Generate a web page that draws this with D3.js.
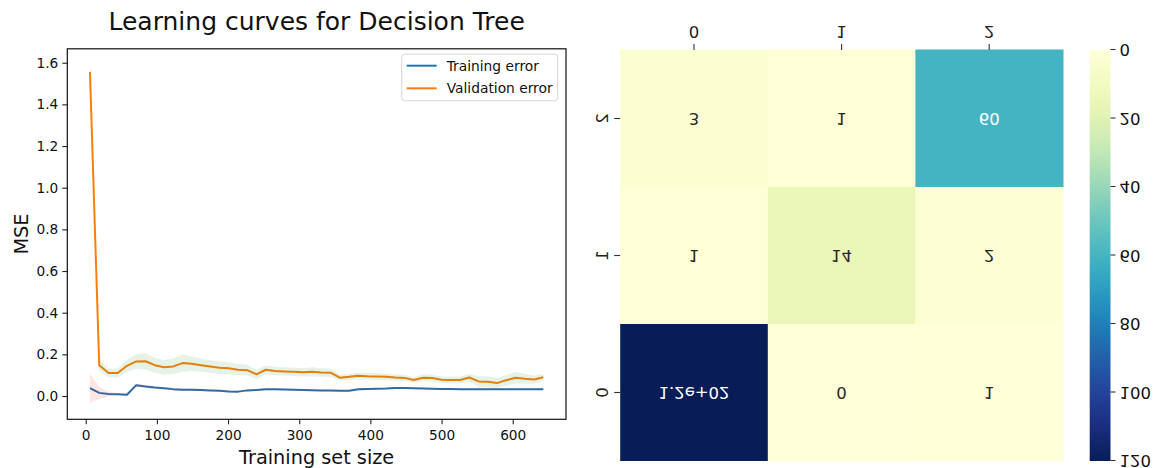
<!DOCTYPE html>
<html>
<head>
<meta charset="utf-8">
<script src="https://cdn.jsdelivr.net/npm/d3@7"></script>
<style>
  body { margin: 0; background: #fff; }
  svg { display: block; }
  text { font-family: "DejaVu Sans", sans-serif; fill: #111; }
</style>
</head>
<body>
<svg id="chart" width="1153" height="468"></svg>
<script>
// ---------- learning-curve data ----------
const trainSizes = [6, 19, 32, 45, 58, 71, 84, 97, 110, 123, 136, 149, 162, 175, 188, 201, 214, 227, 240, 253,
  266, 279, 292, 305, 318, 331, 344, 357, 370, 383, 396, 409, 422, 435, 448, 461, 474, 487, 500, 513,
  526, 539, 552, 565, 578, 591, 604, 617, 630, 643];
const trainError = [0.038, 0.015, 0.010, 0.008, 0.006, 0.052, 0.046, 0.041, 0.037, 0.033, 0.030, 0.030, 0.029, 0.027, 0.025, 0.022, 0.021, 0.027, 0.029, 0.032,
  0.032, 0.031, 0.030, 0.029, 0.028, 0.027, 0.026, 0.025, 0.025, 0.032, 0.034, 0.035, 0.036, 0.038, 0.038, 0.037, 0.036, 0.035, 0.034, 0.034,
  0.033, 0.032, 0.033, 0.033, 0.033, 0.033, 0.033, 0.033, 0.033, 0.033];
const trainStd = [0.069, 0.030, 0.012, 0.006, 0.005, 0.007, 0.007, 0.007, 0.006, 0.006, 0.006, 0.006, 0.005, 0.005, 0.005, 0.005, 0.005, 0.005, 0.005, 0.005,
  0.005, 0.005, 0.005, 0.005, 0.005, 0.005, 0.005, 0.005, 0.005, 0.005, 0.005, 0.004, 0.004, 0.004, 0.004, 0.004, 0.004, 0.004, 0.004, 0.004,
  0.004, 0.004, 0.004, 0.004, 0.004, 0.004, 0.004, 0.004, 0.004, 0.004];
const validError = [1.556, 0.148, 0.110, 0.110, 0.145, 0.166, 0.167, 0.148, 0.138, 0.142, 0.158, 0.155, 0.148, 0.142, 0.136, 0.133, 0.126, 0.124, 0.104, 0.126,
  0.120, 0.118, 0.116, 0.114, 0.116, 0.113, 0.112, 0.088, 0.092, 0.097, 0.095, 0.094, 0.092, 0.089, 0.087, 0.077, 0.088, 0.086, 0.078, 0.077,
  0.077, 0.089, 0.070, 0.068, 0.062, 0.076, 0.088, 0.083, 0.079, 0.090];
const validStd = [0.030, 0.028, 0.020, 0.022, 0.030, 0.035, 0.040, 0.035, 0.035, 0.038, 0.042, 0.035, 0.032, 0.030, 0.030, 0.028, 0.028, 0.026, 0.022, 0.022,
  0.020, 0.020, 0.020, 0.020, 0.022, 0.020, 0.020, 0.014, 0.015, 0.016, 0.016, 0.016, 0.016, 0.016, 0.015, 0.014, 0.016, 0.016, 0.016, 0.016,
  0.017, 0.018, 0.025, 0.026, 0.024, 0.025, 0.028, 0.024, 0.020, 0.016];
const seriesNames = ["Training error", "Validation error"];
const xTicks = [0, 100, 200, 300, 400, 500, 600];
const yTicks = [0.0, 0.2, 0.4, 0.6, 0.8, 1.0, 1.2, 1.4, 1.6];

// ---------- confusion-matrix data ----------
const classLabels = ["0", "1", "2"];
const matrixRow0 = [120, 0, 1];
const matrixRow1 = [1, 14, 2];
const matrixRow2 = [3, 1, 60];
const colorbarTicks = [0, 20, 40, 60, 80, 100, 120];

const svg = d3.select("#chart");

// ================= left panel: learning curves =================
const P = { left: 67.3, right: 566, top: 48.8, bottom: 419.3 };
const lineColors = ["#1f77b4", "#ff7f0e"];

const xMin = d3.min(trainSizes), xMax = d3.max(trainSizes);
const xPad = (xMax - xMin) * 0.05;
const lows = trainError.map((v, i) => v - trainStd[i]).concat(validError.map((v, i) => v - validStd[i]));
const highs = trainError.map((v, i) => v + trainStd[i]).concat(validError.map((v, i) => v + validStd[i]));
const yLo = d3.min(lows), yHi = d3.max(highs);
const yPad = (yHi - yLo) * 0.05;

const x = d3.scaleLinear().domain([xMin - xPad, xMax + xPad]).range([P.left, P.right]);
const y = d3.scaleLinear().domain([yLo - yPad, yHi + yPad]).range([P.bottom, P.top]);

const left = svg.append("g");

const line = d3.line().x(d => x(d[0])).y(d => y(d[1]));
const band = d3.area().x(d => x(d[0])).y0(d => y(d[1] - d[2])).y1(d => y(d[1] + d[2]));

const trainPts = trainSizes.map((s, i) => [s, trainError[i], trainStd[i]]);
const validPts = trainSizes.map((s, i) => [s, validError[i], validStd[i]]);

left.append("path").datum(trainPts).attr("d", line)
  .attr("fill", "none").attr("stroke", lineColors[0]).attr("stroke-width", 2).attr("stroke-linejoin", "round");
left.append("path").datum(validPts).attr("d", line)
  .attr("fill", "none").attr("stroke", lineColors[1]).attr("stroke-width", 2).attr("stroke-linejoin", "round");
left.append("path").datum(trainPts).attr("d", band).attr("fill", "#ff0000").attr("fill-opacity", 0.1);
left.append("path").datum(validPts).attr("d", band).attr("fill", "#008000").attr("fill-opacity", 0.1);

// axes
const xAxis = left.append("g").attr("transform", `translate(0,${P.bottom})`)
  .call(d3.axisBottom(x).tickValues(xTicks).tickSize(5).tickPadding(5.5).tickFormat(d3.format("d")));
const yAxis = left.append("g").attr("transform", `translate(${P.left},0)`)
  .call(d3.axisLeft(y).tickValues(yTicks).tickSize(5).tickPadding(4).tickFormat(d3.format(".1f")));
[xAxis, yAxis].forEach(a => {
  a.select(".domain").remove();
  a.selectAll(".tick line").attr("stroke", "#222").attr("stroke-width", 1.1);
  a.selectAll(".tick text").attr("font-size", "13.7px").attr("font-family", "DejaVu Sans").attr("fill", "#222");
});

left.append("rect")
  .attr("x", P.left).attr("y", P.top)
  .attr("width", P.right - P.left).attr("height", P.bottom - P.top)
  .attr("fill", "none").attr("stroke", "#111").attr("stroke-width", 1.2);

// title and axis labels
const cx = (P.left + P.right) / 2;
left.append("text").attr("x", cx).attr("y", 30).attr("text-anchor", "middle")
  .attr("font-size", "25px").text("Learning curves for Decision Tree");
left.append("text").attr("x", cx).attr("y", 463.5).attr("text-anchor", "middle")
  .attr("font-size", "19.3px").text("Training set size");
left.append("text").attr("transform", `translate(28,${(P.top + P.bottom) / 2}) rotate(-90)`)
  .attr("text-anchor", "middle").attr("font-size", "19.3px").text("MSE");

// legend
const lg = left.append("g");
const lgBox = lg.append("rect").attr("rx", 3).attr("ry", 3)
  .attr("fill", "#fff").attr("fill-opacity", 0.8).attr("stroke", "#d6d6d6").attr("stroke-width", 1);
const lgX = 406.7, lgY0 = 65.7, lgDy = 22.6;
let maxW = 0;
seriesNames.forEach((name, i) => {
  const yy = lgY0 + i * lgDy;
  lg.append("line").attr("x1", lgX).attr("x2", lgX + 30).attr("y1", yy).attr("y2", yy)
    .attr("stroke", lineColors[i]).attr("stroke-width", 2);
  const t = lg.append("text").attr("x", lgX + 40).attr("y", yy).attr("dy", "0.36em")
    .attr("font-size", "13.8px").attr("fill", "#222").text(name);
  maxW = Math.max(maxW, t.node().getComputedTextLength());
});
lgBox.attr("x", lgX - 5).attr("y", lgY0 - 11.5)
  .attr("width", 40 + maxW + 10).attr("height", lgDy + 24);

// ================= right panel: confusion-matrix heatmap =================
// drawn in regular orientation, then mirrored top-to-bottom as a whole
const H = { left: 620.2, right: 1063, top: 50, bottom: 461 };
const CB = { left: 1089.7, right: 1110.5 };
const matrix = [matrixRow0, matrixRow1, matrixRow2];
const vMax = d3.max(matrix.flat());

const hx = d3.scaleBand().domain(classLabels).range([H.left, H.right]);
const hy = d3.scaleBand().domain(classLabels).range([H.top, H.bottom]);
const color = d3.scaleSequential(d3.interpolateYlGnBu).domain([0, vMax]);
const cb = d3.scaleLinear().domain([0, vMax]).range([H.bottom, H.top]);

// value formatting like Python's ".2g"
function fmt2g(v) {
  let s = Number(v).toPrecision(2);
  if (s.includes("e")) {
    const [m, e] = s.split("e");
    const sign = e[0] === "-" ? "-" : "+";
    const digits = e.replace(/[+-]/, "").padStart(2, "0");
    return m + "e" + sign + digits;
  }
  return String(Number(s));
}
function luminance(c) {
  const rgb = d3.rgb(c);
  const f = u => { u /= 255; return u <= 0.03928 ? u / 12.92 : Math.pow((u + 0.055) / 1.055, 2.4); };
  return 0.2126 * f(rgb.r) + 0.7152 * f(rgb.g) + 0.0722 * f(rgb.b);
}

const right = svg.append("g").attr("transform", `translate(0,${H.top + H.bottom}) scale(1,-1)`);

const cells = [];
matrix.forEach((row, r) => row.forEach((v, c) => cells.push({ r: classLabels[r], c: classLabels[c], v })));

right.selectAll("rect.cell").data(cells).join("rect").attr("class", "cell")
  .attr("x", d => hx(d.c)).attr("y", d => hy(d.r))
  .attr("width", hx.bandwidth() + 0.5).attr("height", hy.bandwidth() + 0.5)
  .attr("fill", d => color(d.v));

right.selectAll("text.annot").data(cells).join("text").attr("class", "annot")
  .attr("x", d => hx(d.c) + hx.bandwidth() / 2).attr("y", d => hy(d.r) + hy.bandwidth() / 2)
  .attr("dy", "0.36em").attr("text-anchor", "middle").attr("font-size", "16.5px")
  .style("fill", d => luminance(color(d.v)) < 0.408 ? "#ffffff" : "#262626")
  .text(d => fmt2g(d.v));

// x tick marks and labels (below the matrix before mirroring)
classLabels.forEach(l => {
  const cxl = hx(l) + hx.bandwidth() / 2;
  right.append("line").attr("x1", cxl).attr("x2", cxl).attr("y1", H.bottom).attr("y2", H.bottom + 6)
    .attr("stroke", "#333").attr("stroke-width", 1.1);
  right.append("text").attr("x", cxl).attr("y", H.bottom + 24).attr("text-anchor", "middle")
    .attr("font-size", "16.5px").style("fill", "#222").text(l);
});
// y tick marks and vertical labels
classLabels.forEach(l => {
  const cyl = hy(l) + hy.bandwidth() / 2;
  right.append("line").attr("x1", H.left - 6).attr("x2", H.left).attr("y1", cyl).attr("y2", cyl)
    .attr("stroke", "#333").attr("stroke-width", 1.1);
  right.append("text").attr("transform", `translate(${H.left - 12},${cyl}) rotate(-90)`)
    .attr("text-anchor", "middle").attr("font-size", "16.5px").style("fill", "#222").text(l);
});

// colorbar
const defs = svg.append("defs");
const grad = defs.append("linearGradient").attr("id", "cbGrad")
  .attr("x1", 0).attr("y1", 1).attr("x2", 0).attr("y2", 0);
d3.range(0, 1.0001, 0.05).forEach(t => {
  grad.append("stop").attr("offset", t).attr("stop-color", d3.interpolateYlGnBu(t));
});
right.append("rect").attr("x", CB.left).attr("y", H.top)
  .attr("width", CB.right - CB.left).attr("height", H.bottom - H.top)
  .attr("fill", "url(#cbGrad)");
const cbAxis = right.append("g").attr("transform", `translate(${CB.right},0)`)
  .call(d3.axisRight(cb).tickValues(colorbarTicks).tickSize(5).tickPadding(4));
cbAxis.select(".domain").remove();
cbAxis.selectAll(".tick line").attr("stroke", "#333").attr("stroke-width", 1.1);
cbAxis.selectAll(".tick text").attr("font-size", "16.5px").attr("font-family", "DejaVu Sans").attr("fill", "#222");
</script>
</body>
</html>
